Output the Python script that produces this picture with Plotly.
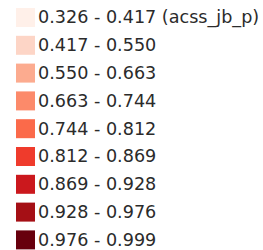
import plotly.graph_objects as go

labels = [
    "0.326 - 0.417 (acss_jb_p)",
    "0.417 - 0.550",
    "0.550 - 0.663",
    "0.663 - 0.744",
    "0.744 - 0.812",
    "0.812 - 0.869",
    "0.869 - 0.928",
    "0.928 - 0.976",
    "0.976 - 0.999",
]
colors = ["#fff0e9", "#fdd5c6", "#fcab8f", "#fc8a6a", "#fb6a4a",
          "#ef3b2c", "#cb181d", "#a50f15", "#67000d"]
rows = list(range(len(labels)))

ROW_PX = 27.8
FIRST_PX = 17.5
TEXT_DROP_PX = 1.5

fig = go.Figure()
fig.add_trace(go.Scatter(
    x=[0] * len(rows), y=rows, mode="markers",
    marker=dict(symbol="square", size=19, color=colors, line=dict(width=0)),
    hoverinfo="skip", showlegend=False, cliponaxis=False,
))
fig.add_trace(go.Scatter(
    x=[12.5] * len(rows), y=rows, mode="text", text=labels,
    textposition="middle right", yaxis="y2",
    textfont=dict(family="DejaVu Sans", size=17.6, color="#2b2b2b"),
    hoverinfo="skip", showlegend=False, cliponaxis=False,
))

top = FIRST_PX
top2 = FIRST_PX + TEXT_DROP_PX
fig.update_layout(
    width=263, height=250, margin=dict(l=0, r=0, t=0, b=0),
    paper_bgcolor="white", plot_bgcolor="white",
    xaxis=dict(range=[-25.5, 237.5], visible=False, fixedrange=True),
    yaxis=dict(range=[(250 - top) / ROW_PX, -top / ROW_PX], visible=False, fixedrange=True),
    yaxis2=dict(range=[(250 - top2) / ROW_PX, -top2 / ROW_PX], visible=False,
                fixedrange=True, overlaying="y"),
)
fig.write_html("out.html", config={"displayModeBar": False},
               post_script="document.body.style.margin='0';document.body.style.overflow='hidden';")
